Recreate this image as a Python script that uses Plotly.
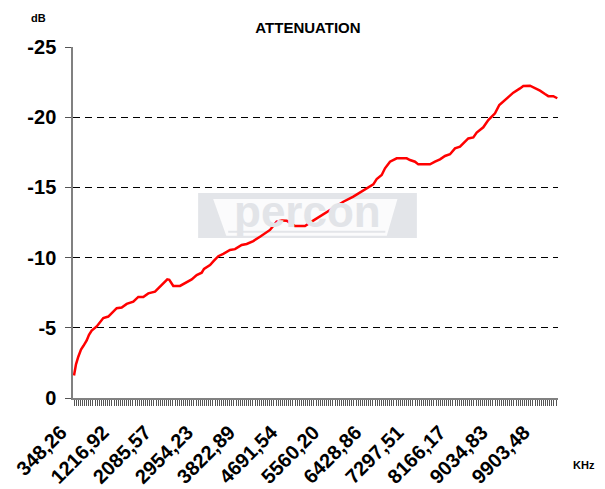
import plotly.graph_objects as go

# Frequencies (kHz) and attenuation (dB)
freq_khz = [348.3, 389.5, 437.0, 492.7, 540.1, 610.3, 657.8, 713.5, 816.6, 884.7,
            952.8, 1056.0, 1132.3, 1229.3, 1332.4, 1435.6, 1571.8, 1675.0, 1778.1, 1881.3,
            2019.5, 2157.8, 2273.3, 2314.6, 2397.1, 2535.4, 2638.5, 2776.8, 2879.9, 2983.1,
            3030.5, 3154.3, 3236.8, 3325.6, 3428.7, 3567.0, 3670.1, 3808.4, 3911.5, 4047.7,
            4185.9, 4289.1, 4392.2, 4530.5, 4639.9, 4736.8, 4804.9, 4908.1, 5011.2, 5114.4,
            5217.6, 5388.8, 5527.1, 5698.3, 5904.7, 6111.0, 6249.3, 6387.5, 6523.7, 6593.8,
            6697.0, 6765.1, 6868.3, 7006.5, 7212.8, 7280.9, 7384.1, 7452.2, 7693.6, 7796.8,
            7899.9, 8003.1, 8106.3, 8209.4, 8312.6, 8483.8, 8587.0, 8657.2, 8793.4, 8896.5,
            8966.7, 9034.8, 9123.5, 9276.2, 9412.4, 9550.6, 9618.7, 9756.9, 9825.0, 9963.2,
            10066.4, 10134.5, 10237.6, 10320.2]
atten_db = [-1.6, -2.4, -2.94, -3.45, -3.7, -4.1, -4.5, -4.8, -5.1, -5.4,
            -5.7, -5.8, -6.1, -6.4, -6.45, -6.7, -6.86, -7.2, -7.2, -7.45,
            -7.57, -8.05, -8.45, -8.42, -7.98, -7.98, -8.17, -8.45, -8.76, -8.92,
            -9.19, -9.47, -9.78, -10.1, -10.26, -10.54, -10.6, -10.9, -10.97, -11.18,
            -11.49, -11.7, -11.97, -12.56, -12.65, -12.63, -12.49, -12.25, -12.25, -12.25,
            -12.49, -12.87, -13.15, -13.58, -13.98, -14.34, -14.62, -14.93, -15.22, -15.6,
            -15.88, -16.36, -16.83, -17.07, -17.07, -16.95, -16.83, -16.64, -16.64, -16.83,
            -17.0, -17.24, -17.36, -17.78, -17.9, -18.49, -18.56, -18.9, -19.28, -19.8,
            -20.08, -20.28, -20.87, -21.35, -21.75, -22.05, -22.22, -22.24, -22.13, -21.89,
            -21.65, -21.5, -21.5, -21.35]

x_tick_vals = [348.26, 1216.92, 2085.57, 2954.23, 3822.89, 4691.54, 5560.20,
               6428.86, 7297.51, 8166.17, 9034.83, 9903.48]
x_tick_text = ["348,26", "1216,92", "2085,57", "2954,23", "3822,89", "4691,54", "5560,20",
               "6428,86", "7297,51", "8166,17", "9034,83", "9903,48"]
y_tick_vals = [0, -5, -10, -15, -20, -25]
y_tick_text = ["0", "-5", "-10", "-15", "-20", "-25"]

FONT = "Liberation Sans, Arial, sans-serif"

fig = go.Figure()
fig.add_trace(go.Scatter(x=freq_khz, y=atten_db, mode="lines",
                         line=dict(color="#ff0000", width=2.5, shape="linear"),
                         hoverinfo="skip", showlegend=False))

# watermark logo
fig.add_shape(type="rect", xref="paper", yref="paper", x0=0.258, x1=0.709, y0=0.456, y1=0.584,
              fillcolor="#e3e5e9", line=dict(width=0), layer="below")
fig.add_shape(type="path", xref="paper", yref="paper",
              path="M 0.289 0.567 L 0.669 0.567 L 0.647 0.462 L 0.316 0.462 Z",
              fillcolor="#fbfbfc", line=dict(width=0), layer="below")
fig.add_shape(type="line", xref="paper", yref="paper", x0=0.32, x1=0.644, y0=0.474, y1=0.474,
              line=dict(color="#e3e5e9", width=2), layer="below")
fig.add_annotation(text="<b>percon</b>", xref="paper", yref="paper", x=0.483, y=0.53,
                   xanchor="center", yanchor="middle",
                   showarrow=False, font=dict(family=FONT, size=44, color="#e2e4e8"))

fig.update_layout(
    width=597, height=481,
    margin=dict(l=65, r=47, t=39, b=91, autoexpand=False),
    paper_bgcolor="white", plot_bgcolor="white",
    font=dict(family=FONT, color="black"),
    title=dict(text="<b>ATTENUATION</b>", x=0.5025, xanchor="center", y=1 - 20 / 481,
               yanchor="middle", font=dict(family=FONT, size=15, color="black")),
    xaxis=dict(range=[327.6, 10334.6], tickmode="array", tickvals=x_tick_vals,
               ticktext=x_tick_text, automargin=False,
               tickangle=-45, tickfont=dict(family=FONT, size=20, color="black", weight="bold"),
               ticks="outside", ticklen=6, tickcolor="#555555", tickwidth=1,
               ticklabelshift=-13, ticklabelstandoff=7,
               minor=dict(tick0=348.26, dtick=868.66 / 20, ticks="outside", ticklen=6,
                          tickcolor="#555555", tickwidth=1, showgrid=False),
               showline=True, linecolor="#808080", linewidth=1.5,
               showgrid=False, zeroline=False, fixedrange=True),
    yaxis=dict(range=[0, -25], tickmode="array", tickvals=y_tick_vals, ticktext=y_tick_text,
               automargin=False,
               tickfont=dict(family=FONT, size=20, color="black", weight="bold"),
               ticks="outside", ticklen=6, tickcolor="#555555", ticklabelstandoff=5,
               showline=True, linecolor="#808080", linewidth=1.5,
               showgrid=True, gridcolor="black", gridwidth=1, griddash="7px,5px",
               zeroline=False, fixedrange=True),
)

fig.add_annotation(text="<b>dB</b>", xref="paper", yref="paper", x=-0.0711, y=1.084,
                   xanchor="center", yanchor="middle",
                   showarrow=False, font=dict(family=FONT, size=11, color="black"))
fig.add_annotation(text="<b>KHz</b>", xref="paper", yref="paper", x=1.0546, y=-0.1909,
                   xanchor="center", yanchor="middle",
                   showarrow=False, font=dict(family=FONT, size=11, color="black"))

fig.write_html("out.html")
